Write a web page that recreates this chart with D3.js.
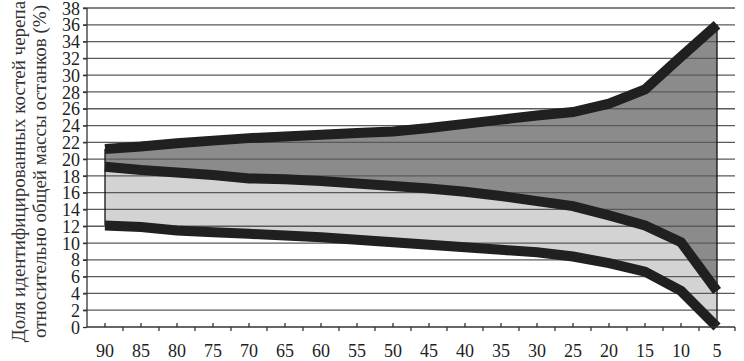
<!DOCTYPE html>
<html>
<head>
<meta charset="utf-8">
<script src="https://cdn.jsdelivr.net/npm/d3@7"></script>
</head>
<body style="margin:0">
<script>
// categories along x (years / age groups), left to right
const categories = ["90", "85", "80", "75", "70", "65", "60", "55", "50", "45", "40", "35", "30", "25", "20", "15", "10", "5"];
// three boundary series
const upper  = [21.2, 21.5, 21.9, 22.2, 22.5, 22.7, 22.9, 23.1, 23.3, 23.7, 24.2, 24.7, 25.2, 25.6, 26.6, 28.3, 32.2, 36.0];
const middle = [19.1, 18.7, 18.4, 18.1, 17.7, 17.6, 17.4, 17.1, 16.8, 16.5, 16.1, 15.6, 15.0, 14.4, 13.3, 12.1, 10.1, 4.3];
const lower  = [12.1, 11.9, 11.5, 11.3, 11.1, 10.9, 10.7, 10.4, 10.1, 9.8, 9.5, 9.2, 8.9, 8.4, 7.6, 6.6, 4.3, 0.0];
const yTicks = d3.range(0, 39, 2);
const yTitle = ["Доля идентифицированных костей черепа", "относительно общей массы останков (%)"];

const FONT = "Liberation Serif";
const W = 744, H = 361;
const margin = { top: 8, right: 9, bottom: 34, left: 87 };
const width = W - margin.left - margin.right,
      height = H - margin.top - margin.bottom;

const svg = d3.select("body").append("svg")
  .attr("width", W)
  .attr("height", H);

const g = svg.append("g")
  .attr("transform", "translate(" + margin.left + "," + margin.top + ")");

let x = d3.scaleBand().domain(categories).range([0, width]);
let y = d3.scaleLinear().domain([0, 38]).range([height, 0]);
let cx = function (c) { return x(c) + x.bandwidth() / 2; };

let rows = categories.map(function (c, i) {
  return { cat: c, up: upper[i], mid: middle[i], low: lower[i] };
});

// filled bands
let areaTop = d3.area()
  .x(function (d) { return cx(d.cat); })
  .y0(function (d) { return y(d.mid); })
  .y1(function (d) { return y(d.up); });

let areaBottom = d3.area()
  .x(function (d) { return cx(d.cat); })
  .y0(function (d) { return y(d.low); })
  .y1(function (d) { return y(d.mid); });

g.append("path").datum(rows).attr("d", areaBottom).attr("fill", "#d3d3d3");
g.append("path").datum(rows).attr("d", areaTop).attr("fill", "#8b8b8b");

// horizontal gridlines (visible over the fills)
g.append("g")
  .selectAll("line")
  .data(yTicks.filter(function (t) { return t > 0; }))
  .enter().append("line")
  .attr("x1", -4)
  .attr("x2", width)
  .attr("y1", function (d) { return y(d); })
  .attr("y2", function (d) { return y(d); })
  .attr("stroke", "#5a5a5a")
  .attr("stroke-width", 1.3);

// thin vertical edges at first and last category
let first = rows[0], last = rows[rows.length - 1];
g.append("line")
  .attr("x1", cx(first.cat)).attr("x2", cx(first.cat))
  .attr("y1", y(first.low)).attr("y2", y(first.up))
  .attr("stroke", "#111").attr("stroke-width", 1.3);
g.append("line")
  .attr("x1", cx(last.cat)).attr("x2", cx(last.cat))
  .attr("y1", y(last.low)).attr("y2", y(last.up))
  .attr("stroke", "#111").attr("stroke-width", 1.3);

// thick boundary lines
let line = d3.line()
  .x(function (d) { return cx(d.cat); })
  .y(function (d) { return y(d.v); });

[upper, middle, lower].forEach(function (s) {
  g.append("path")
    .datum(categories.map(function (c, i) { return { cat: c, v: s[i] }; }))
    .attr("d", line)
    .attr("fill", "none")
    .attr("stroke", "#202020")
    .attr("stroke-width", 10)
    .attr("stroke-linejoin", "miter")
    .attr("stroke-linecap", "butt");
});

// y axis
let yAxis = g.append("g")
  .call(d3.axisLeft(y).tickValues(yTicks).tickSize(4).tickPadding(3));
yAxis.attr("font-family", null).attr("font-size", null);
yAxis.select(".domain").attr("stroke", "#333").attr("stroke-width", 1.3).attr("d", "M0," + height + "V0");
yAxis.selectAll(".tick line").attr("stroke", "#333").attr("stroke-width", 1.3);
yAxis.selectAll(".tick text")
  .attr("font-family", FONT)
  .attr("font-size", 18)
  .attr("fill", "#222")
  .attr("dy", "0.34em");

// x axis: line, ticks up at category centres, ticks down at band edges
let xg = g.append("g").attr("transform", "translate(0," + height + ")");
xg.append("line")
  .attr("x1", 0).attr("x2", width)
  .attr("stroke", "#333").attr("stroke-width", 1.3);
xg.selectAll(".up")
  .data(categories)
  .enter().append("line")
  .attr("class", "up")
  .attr("x1", function (d) { return cx(d); })
  .attr("x2", function (d) { return cx(d); })
  .attr("y1", 0).attr("y2", -4)
  .attr("stroke", "#333").attr("stroke-width", 1.3);
xg.selectAll(".down")
  .data(categories)
  .enter().append("line")
  .attr("class", "down")
  .attr("x1", function (d) { return x(d) + x.bandwidth(); })
  .attr("x2", function (d) { return x(d) + x.bandwidth(); })
  .attr("y1", 0).attr("y2", 4)
  .attr("stroke", "#333").attr("stroke-width", 1.3);
xg.selectAll("text")
  .data(categories)
  .enter().append("text")
  .attr("x", function (d) { return cx(d); })
  .attr("y", 30)
  .attr("text-anchor", "middle")
  .attr("font-family", FONT)
  .attr("font-size", 18)
  .attr("fill", "#222")
  .text(function (d) { return d; });

// rotated y title, two lines
yTitle.forEach(function (t, i) {
  svg.append("text")
    .attr("transform", "translate(" + (25 + i * 21) + "," + (margin.top + height / 2 + 4) + ") rotate(-90)")
    .attr("text-anchor", "middle")
    .attr("font-family", FONT)
    .attr("font-size", 19)
    .attr("fill", "#333")
    .text(t);
});
</script>
</body>
</html>
